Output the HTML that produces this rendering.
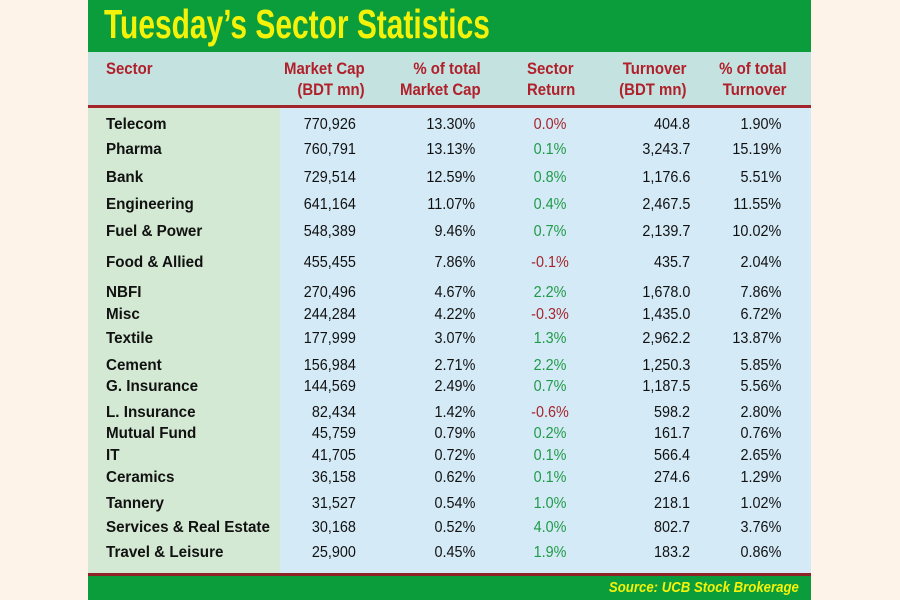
<!DOCTYPE html>
<html><head><meta charset="utf-8"><style>
*{margin:0;padding:0;box-sizing:border-box}
body{width:900px;height:600px;background:#fdf3e8;position:relative;overflow:hidden;font-family:"Liberation Sans",sans-serif}
.a{position:absolute;white-space:nowrap}
#hdr{left:88px;top:0;width:723px;height:52px;background:#0b9c3b}
#title{left:104px;top:1px;font-size:41px;font-weight:bold;color:#f5f20a;transform:scaleX(0.73);transform-origin:left}
#hrow{left:88px;top:52px;width:723px;height:53px;background:#c3e2e0}
#red1{left:88px;top:105px;width:723px;height:3px;background:#a3242a}
#sec{left:88px;top:108px;width:192px;height:466px;background:#d3e9d3}
#body{left:280px;top:108px;width:531px;height:466px;background:#d4eaf7}
#red2{left:88px;top:573px;width:723px;height:3px;background:#8e2328}
#ftr{left:88px;top:576px;width:723px;height:24px;background:#0b9c3b}
#src{right:101px;top:579px;font-size:15px;font-weight:bold;font-style:italic;color:#f5f20a;transform:scaleX(0.88);transform-origin:right}
.h{font-size:17px;font-weight:bold;color:#b1202a;line-height:21px;transform:scaleX(0.88)}
.r{font-size:16px;line-height:20px;color:#111;transform:scaleX(0.9)}
.r.s{transform:scaleX(0.95)}
.L{transform-origin:left}.R{transform-origin:right}.C{transform-origin:center}
.s{font-weight:bold}
.g{color:#1f9a47}.d{color:#a5252b}
</style></head><body>
<div class="a" id="hdr"></div><div class="a" id="title">Tuesday’s Sector Statistics</div>
<div class="a" id="hrow"></div><div class="a" id="red1"></div>
<div class="a" id="sec"></div><div class="a" id="body"></div>
<div class="a" id="red2"></div><div class="a" id="ftr"></div>
<div class="a" id="src">Source: UCB Stock Brokerage</div>
<div class="a h L" style="left:106px;top:58px">Sector</div>
<div class="a h R" style="right:535px;top:58px;text-align:right">Market Cap<br>(BDT mn)</div>
<div class="a h R" style="right:419px;top:58px;text-align:right">% of total<br>Market Cap</div>
<div class="a h L" style="left:527px;top:58px">Sector<br>Return</div>
<div class="a h R" style="right:214px;top:58px;text-align:right">Turnover<br>(BDT mn)</div>
<div class="a h R" style="right:114px;top:58px;text-align:right">% of total<br>Turnover</div>
<div id="rows"></div>
<script>
var d=[["Telecom","770,926","13.30%","0.0%","404.8","1.90%",125,"d"],
["Pharma","760,791","13.13%","0.1%","3,243.7","15.19%",150,"g"],
["Bank","729,514","12.59%","0.8%","1,176.6","5.51%",178,"g"],
["Engineering","641,164","11.07%","0.4%","2,467.5","11.55%",205,"g"],
["Fuel & Power","548,389","9.46%","0.7%","2,139.7","10.02%",232,"g"],
["Food & Allied","455,455","7.86%","-0.1%","435.7","2.04%",263,"d"],
["NBFI","270,496","4.67%","2.2%","1,678.0","7.86%",293,"g"],
["Misc","244,284","4.22%","-0.3%","1,435.0","6.72%",315,"d"],
["Textile","177,999","3.07%","1.3%","2,962.2","13.87%",339,"g"],
["Cement","156,984","2.71%","2.2%","1,250.3","5.85%",366,"g"],
["G. Insurance","144,569","2.49%","0.7%","1,187.5","5.56%",387,"g"],
["L. Insurance","82,434","1.42%","-0.6%","598.2","2.80%",413,"d"],
["Mutual Fund","45,759","0.79%","0.2%","161.7","0.76%",434,"g"],
["IT","41,705","0.72%","0.1%","566.4","2.65%",456,"g"],
["Ceramics","36,158","0.62%","0.1%","274.6","1.29%",478,"g"],
["Tannery","31,527","0.54%","1.0%","218.1","1.02%",504,"g"],
["Services & Real Estate","30,168","0.52%","4.0%","802.7","3.76%",528,"g"],
["Travel & Leisure","25,900","0.45%","1.9%","183.2","0.86%",553,"g"]];
var h="";d.forEach(function(r){var t=r[6]-10;
h+='<div class="a r s L" style="left:106px;top:'+t+'px">'+r[0].replace("&","&amp;")+'</div>';
h+='<div class="a r R" style="right:544px;top:'+t+'px">'+r[1]+'</div>';
h+='<div class="a r R" style="right:425px;top:'+t+'px">'+r[2]+'</div>';
h+='<div class="a r C '+r[7]+'" style="left:520px;width:60px;text-align:center;top:'+t+'px">'+r[3]+'</div>';
h+='<div class="a r R" style="right:210px;top:'+t+'px">'+r[4]+'</div>';
h+='<div class="a r R" style="right:119px;top:'+t+'px">'+r[5]+'</div>';});
document.getElementById("rows").innerHTML=h;
</script>
</body></html>
